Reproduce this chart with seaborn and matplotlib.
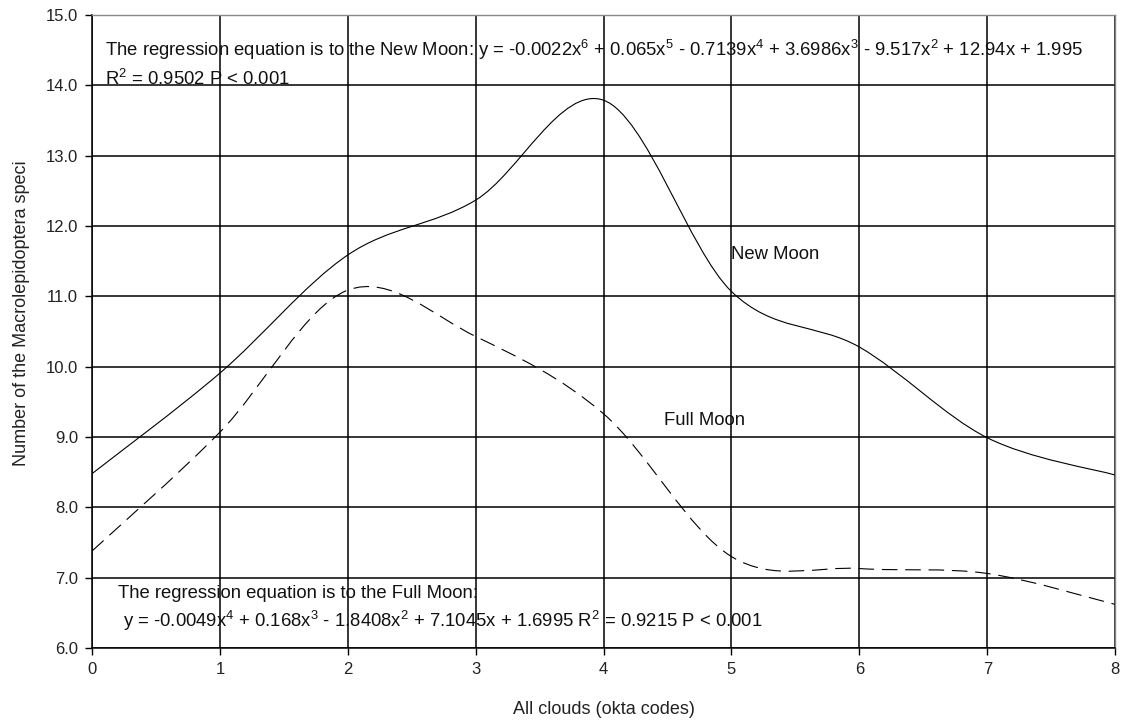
import numpy as np
import pandas as pd
import matplotlib
matplotlib.use("Agg")
import matplotlib.pyplot as plt
from matplotlib.path import Path
from matplotlib.patches import PathPatch
import seaborn as sns

# values, one per okta code
okta = [0, 1, 2, 3, 4, 5, 6, 7, 8]
new_moon = [8.48, 9.91, 11.59, 12.37, 13.79, 11.07, 10.28, 8.99, 8.46]
full_moon = [7.38, 9.07, 11.09, 10.43, 9.33, 7.30, 7.13, 7.06, 6.62]

y_ticks = [6, 7, 8, 9, 10, 11, 12, 13, 14, 15]

eq_new = ("The regression equation is to the New Moon: y = -0.0022x$^{\\mathregular{6}}$ + 0.065x$^{\\mathregular{5}}$"
          " - 0.7139x$^{\\mathregular{4}}$ + 3.6986x$^{\\mathregular{3}}$ - 9.517x$^{\\mathregular{2}}$ + 12.94x + 1.995")
r2_new = "R$^{\\mathregular{2}}$ = 0.9502 P < 0.001"
eq_full1 = "The regression equation is to the Full Moon:"
eq_full2 = (" y = -0.0049x$^{\\mathregular{4}}$ + 0.168x$^{\\mathregular{3}}$ - 1.8408x$^{\\mathregular{2}}$"
            " + 7.1045x + 1.6995 R$^{\\mathregular{2}}$ = 0.9215 P < 0.001")


def smooth_path(xs, ys):
    # excel style smoothed line: bezier segments through every point
    pts = np.column_stack([xs, ys])
    n = len(pts)
    verts = [pts[0]]
    codes = [Path.MOVETO]
    for i in range(n - 1):
        p0 = pts[i - 1] if i > 0 else pts[i]
        p1 = pts[i]
        p2 = pts[i + 1]
        p3 = pts[i + 2] if i + 2 < n else pts[i + 1]
        c1 = p1 + (p2 - p0) / 6
        c2 = p2 - (p3 - p1) / 6
        verts += [c1, c2, p2]
        codes += [Path.CURVE4] * 3
    return Path(verts, codes)


sns.set_theme(style="white")
plt.rcParams['font.family'] = ['Liberation Sans', 'DejaVu Sans']
plt.rcParams['mathtext.fontset'] = 'custom'
plt.rcParams['mathtext.rm'] = 'Liberation Sans'

df = pd.DataFrame({"okta": okta, "New Moon": new_moon, "Full Moon": full_moon})

fig = plt.figure(figsize=(11.23, 7.22), dpi=100)
ax = fig.add_axes([0.082, 0.1025, 0.911, 0.8765])

ax.add_patch(PathPatch(smooth_path(df["okta"], df["New Moon"]), fill=False,
                       edgecolor="black", lw=0.8))
ax.add_patch(PathPatch(smooth_path(df["okta"], df["Full Moon"]), fill=False,
                       edgecolor="black", lw=0.8, linestyle=(0, (14, 7))))

ax.set_xlim(0, 8)
ax.set_ylim(6, 15)
ax.set_xticks(okta)
ax.set_yticks(y_ticks)
ax.set_yticklabels([f"{v:.1f}" for v in y_ticks])
ax.grid(True, color="black", lw=1.1)
ax.tick_params(axis="both", direction="out", length=5, width=1, color="black",
               labelsize=12, labelcolor="#222222", bottom=True, left=True, pad=5)
for side in ["left", "bottom"]:
    ax.spines[side].set_color("black")
    ax.spines[side].set_linewidth(1.1)
for side in ["top", "right"]:
    ax.spines[side].set_color("#888888")
    ax.spines[side].set_linewidth(1.0)

fig.text(604 / 1123, 1 - 709 / 722, "All clouds (okta codes)", fontsize=13,
         color="#222222", ha="center", va="center")
fig.text(21.7 / 1123, 1 - 313 / 722, "Number of the Macrolepidoptera speci", fontsize=13,
         color="#222222", ha="center", va="center", rotation=90)

txt = dict(fontsize=13.3, color="#111111", va="center", ha="left")
ax.text(0.10, 14.5, eq_new, **txt)
ax.text(0.10, 14.09, r2_new, **txt)
ax.text(0.2, 6.78, eq_full1, **txt)
ax.text(0.2, 6.38, eq_full2, **txt)
ax.text(5.0, 11.59, "New Moon", **txt)
ax.text(4.47, 9.24, "Full Moon", **txt)

fig.savefig("out.png", dpi=100, facecolor="white")
